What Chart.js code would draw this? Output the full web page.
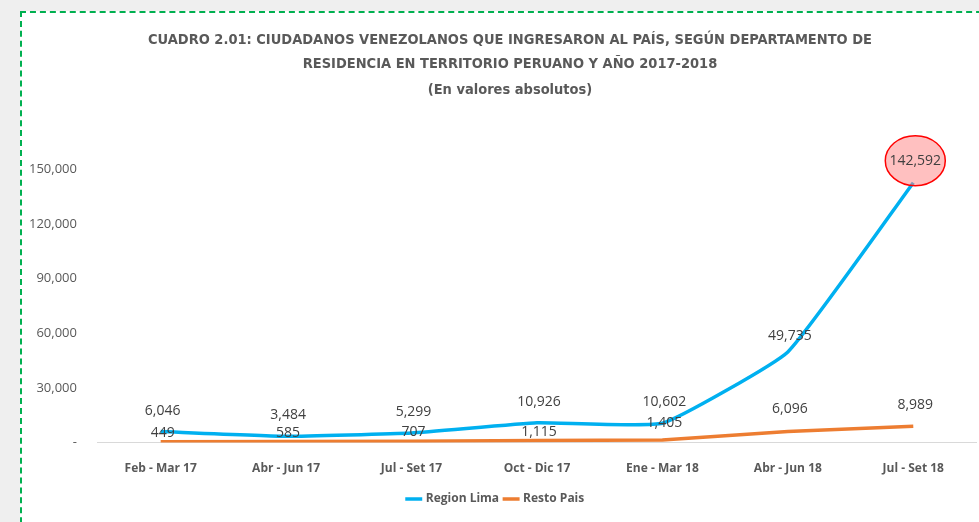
<!DOCTYPE html>
<html>
<head>
<meta charset="utf-8">
<script src="https://cdn.jsdelivr.net/npm/chart.js@4.4.0/dist/chart.umd.min.js"></script>
<style>
  html, body { margin: 0; padding: 0; width: 979px; height: 522px; overflow: hidden; background: #efefef; }
  #frame { position: absolute; left: 20px; top: 11px; width: 980px; height: 540px; background: #fff;
           border-left: 2px dashed #00b050; border-top: 2px dashed #00b050; }
  #wrap { position: absolute; left: 0; top: 0; width: 979px; height: 522px; }
</style>
</head>
<body>
<div id="frame"></div>
<div id="wrap"><canvas id="chart-area"></canvas></div>
<script>
var periodos = ['Feb - Mar 17', 'Abr - Jun 17', 'Jul - Set 17', 'Oct - Dic 17', 'Ene - Mar 18', 'Abr - Jun 18', 'Jul - Set 18']
var regionLima = [6046, 3484, 5299, 10926, 10602, 49735, 142592]
var restoPais = [449, 585, 707, 1115, 1405, 6096, 8989]
var yTicks = [0, 30000, 60000, 90000, 120000, 150000]
var titulo = ['CUADRO 2.01: CIUDADANOS VENEZOLANOS QUE INGRESARON AL PAÍS, SEGÚN DEPARTAMENTO DE',
	'RESIDENCIA EN TERRITORIO PERUANO Y AÑO 2017-2018',
	'(En valores absolutos)']

var fmt = function (v) { return v === 0 ? '-' : v.toLocaleString('en-US') }

// titulo (algo corrido a la derecha como en el original)
var titlePlugin = {
	id: 'titulo',
	afterDraw: function (chart) {
		var ctx = chart.ctx
		ctx.save()
		ctx.font = 'bold 14.5px "DejaVu Sans Condensed", sans-serif'
		ctx.fillStyle = '#595959'
		ctx.textAlign = 'center'
		ctx.textBaseline = 'middle'
		var ys = [40, 64, 90]
		titulo.forEach(function (t, i) { ctx.fillText(t, 510, ys[i]) })
		ctx.restore()
	}
}

// etiquetas de datos + el circulo rojo del ultimo valor
var labelPlugin = {
	id: 'labels',
	afterDatasetsDraw: function (chart) {
		var ctx = chart.ctx
		var limaMeta = chart.getDatasetMeta(0)
		var last = limaMeta.data[limaMeta.data.length - 1]
		ctx.save()
		ctx.beginPath()
		ctx.ellipse(last.x + 2, last.y - 22, 30, 25, 0, 0, Math.PI * 2)
		ctx.fillStyle = 'rgba(255,130,130,0.5)'
		ctx.fill()
		ctx.lineWidth = 1.5
		ctx.strokeStyle = '#ff0000'
		ctx.stroke()

		ctx.font = '14px "Open Sans", sans-serif'
		ctx.fillStyle = '#404040'
		ctx.textAlign = 'center'
		ctx.textBaseline = 'middle'
		chart.data.datasets.forEach(function (ds, i) {
			var meta = chart.getDatasetMeta(i)
			meta.data.forEach(function (pt, j) {
				var off = ds.labelOffset[j]
				ctx.fillText(fmt(ds.data[j]), pt.x + 2, pt.y - off)
			})
		})
		ctx.restore()
	}
}

var config = {
	type: 'line',
	data: {
		labels: periodos,
		datasets: [{
			label: 'Region Lima',
			data: regionLima,
			borderColor: '#00b0f0',
			backgroundColor: '#00b0f0',
			borderWidth: 3.5,
			pointRadius: 0,
			tension: 0.12,
			labelOffset: [21, 21, 21, 21, 21, 16, 22]
		}, {
			label: 'Resto Pais',
			data: restoPais,
			borderColor: '#ed7d31',
			backgroundColor: '#ed7d31',
			borderWidth: 3.5,
			pointRadius: 0,
			tension: 0,
			labelOffset: [9, 9, 9, 9, 17, 22, 21]
		}]
	},
	options: {
		responsive: true,
		maintainAspectRatio: false,
		animation: false,
		layout: { padding: { left: 16, right: 3, top: 151, bottom: 7 } },
		plugins: {
			title: { display: false },
			legend: {
				position: 'bottom',
				labels: {
					usePointStyle: true,
					pointStyle: 'line',
					boxWidth: 28,
					color: '#595959',
					font: { family: '"Open Sans", sans-serif', size: 12, weight: 'bold' },
					padding: 6
				}
			},
			tooltip: { enabled: false }
		},
		scales: {
			x: {
				offset: true,
				grid: { display: false },
				border: { display: true, color: '#d9d9d9', width: 1 },
				ticks: { color: '#595959', padding: 11, maxRotation: 0,
					font: { family: '"Open Sans", sans-serif', size: 12, weight: 'bold' } }
			},
			y: {
				min: 0,
				max: 160000,
				grid: { display: false },
				border: { display: false },
				afterBuildTicks: function (axis) {
					axis.ticks = yTicks.map(function (v) { return { value: v } })
				},
				ticks: { color: '#595959', padding: 13, callback: function (v) { return fmt(v) },
					font: { family: '"Open Sans", sans-serif', size: 13 } }
			}
		}
	},
	plugins: [labelPlugin, titlePlugin]
}

window.onload = function () {
	var ctx = document.getElementById('chart-area').getContext('2d')
	window.myLine = new Chart(ctx, config)
}
</script>
</body>
</html>
